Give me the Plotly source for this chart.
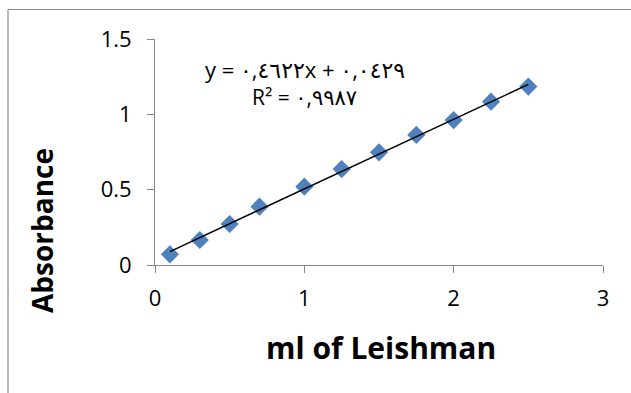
import plotly.graph_objects as go

# Data
ml_leishman = [0.1, 0.3, 0.5, 0.7, 1.0, 1.25, 1.5, 1.75, 2.0, 2.25, 2.5]
absorbance = [0.071, 0.166, 0.272, 0.387, 0.520, 0.637, 0.748, 0.863, 0.962, 1.084, 1.184]
slope = 0.4622
intercept = 0.0429
eq_text = "y = ٠,٤٦٢٢x + ٠,٠٤٢٩"
r2_text = "R² = ٠,٩٩٨٧"
x_ticks = [0, 1, 2, 3]
y_ticks = [0, 0.5, 1, 1.5]
y_tick_labels = ["0", "0.5", "1", "1.5"]
x_title = "ml of Leishman"
y_title = "Absorbance"

W, H = 631, 393
L, R, T, B = 155, 28, 39, 128
pw, ph = W - L - R, H - T - B

def px_x(p):
    return (p - L) / pw

def px_y(p):
    return (H - B - p) / ph

font_main = "'Open Sans', 'DejaVu Sans', sans-serif"

trend_x = [ml_leishman[0], ml_leishman[-1]]
trend_y = [slope * v + intercept for v in trend_x]

fig = go.Figure()
fig.add_trace(go.Scatter(
    x=ml_leishman, y=absorbance, mode="markers",
    marker=dict(symbol="diamond", size=14, color="#4F81BD",
                line=dict(width=0)),
    showlegend=False, cliponaxis=False,
))
fig.add_trace(go.Scatter(
    x=trend_x, y=trend_y, mode="lines",
    line=dict(color="black", width=1.5),
    showlegend=False, cliponaxis=False,
))

fig.update_layout(
    width=W, height=H,
    margin=dict(l=L, r=R, t=T, b=B),
    paper_bgcolor="white", plot_bgcolor="white",
    font=dict(family=font_main, color="black", size=17),
    xaxis=dict(range=[0, 3], tickvals=x_ticks, ticktext=[str(v) for v in x_ticks],
               showgrid=False, zeroline=False, showline=True,
               linecolor="#868686", linewidth=1,
               ticks="outside", ticklen=7, tickcolor="#868686",
               tickfont=dict(size=22), ticklabelstandoff=7, fixedrange=True),
    yaxis=dict(range=[0, 1.5], tickvals=y_ticks, ticktext=y_tick_labels,
               showgrid=False, zeroline=False, showline=True,
               linecolor="#868686", linewidth=1,
               ticks="outside", ticklen=7, tickcolor="#868686",
               tickfont=dict(size=22), ticklabelstandoff=11, fixedrange=True),
    shapes=[
        dict(type="line", xref="paper", yref="paper",
             x0=px_x(8), x1=px_x(W + 5), y0=px_y(9.5), y1=px_y(9.5),
             line=dict(color="#8C8C8C", width=1.2)),
        dict(type="line", xref="paper", yref="paper",
             x0=px_x(8), x1=px_x(8), y0=px_y(9.5), y1=px_y(H + 5),
             line=dict(color="#8C8C8C", width=1.2)),
    ],
    annotations=[
        dict(text=eq_text, xref="paper", yref="paper", x=px_x(305), y=px_y(69),
             showarrow=False, xanchor="center", yanchor="middle",
             font=dict(size=22)),
        dict(text=r2_text, xref="paper", yref="paper", x=px_x(304), y=px_y(97),
             showarrow=False, xanchor="center", yanchor="middle",
             font=dict(size=21)),
        dict(text="<b>" + x_title + "</b>", xref="paper", yref="paper",
             x=px_x(381), y=px_y(347), showarrow=False,
             xanchor="center", yanchor="middle", font=dict(size=30)),
        dict(text="<b>" + y_title + "</b>", xref="paper", yref="paper",
             x=px_x(42), y=px_y(231), showarrow=False, textangle=-90,
             xanchor="center", yanchor="middle", font=dict(size=28)),
    ],
)

fig.write_html("out.html")
